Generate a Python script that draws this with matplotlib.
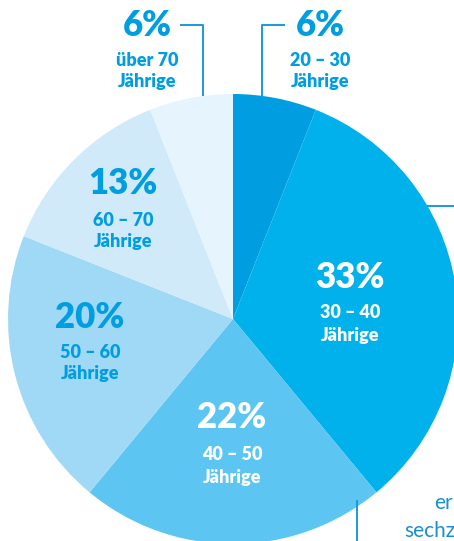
import matplotlib.pyplot as plt

# age groups, clockwise from 12 o'clock
shares = [6, 33, 22, 20, 13, 6]
pct_labels = ["6%", "33%", "22%", "20%", "13%", "6%"]
age_labels = ["20 – 30", "30 – 40", "40 – 50", "50 – 60", "60 – 70", "über 70"]
colors = ["#009ee0", "#00b1eb", "#5cc5f2", "#a0d9f6", "#d0eafa", "#e6f4fd"]

W, H = 454, 541
BLUE = "#009ee0"
FONT = ["Lato", "DejaVu Sans"]

fig = plt.figure(figsize=(W / 100, H / 100), dpi=100)
ax = fig.add_axes([0, 0, 1, 1])

cx, cy, r = 233, H - 319, 225
ax.pie(shares, colors=colors, startangle=90, counterclock=False,
       center=(cx, cy), radius=r, wedgeprops=dict(linewidth=0))
ax.set_xlim(0, W)
ax.set_ylim(0, H)
ax.set_aspect("equal")
ax.axis("off")

# label positions in pixel coords (x, y of percent, y of age, y of "Jährige")
label_pos = [
    (320, 25, 60, 82),
    (350, 277, 313, 335),
    (232, 418, 455, 477),
    (90, 318, 352, 374),
    (123, 184, 221, 242),
    (147, 25, 60, 82),
]
text_colors = [BLUE, "white", "white", BLUE, BLUE, BLUE]

for i, (x, y1, y2, y3) in enumerate(label_pos):
    c = text_colors[i]
    ax.text(x, H - y1, pct_labels[i], ha="center", va="center", color=c,
            fontsize=25, fontweight="heavy", family=FONT)
    ax.text(x, H - y2, age_labels[i], ha="center", va="center", color=c,
            fontsize=13, fontweight="heavy", family=FONT)
    ax.text(x, H - y3, "Jährige", ha="center", va="center", color=c,
            fontsize=13, fontweight="heavy", family=FONT)

# leader lines
line_kw = dict(color="#1a9ad9", linewidth=1.4, solid_capstyle="butt")
ax.plot([285, 262, 262], [H - 25, H - 25, H - 96], **line_kw)
ax.plot([180, 203, 203], [H - 25, H - 25, H - 96], **line_kw)
ax.plot([427, W], [H - 206, H - 206], **line_kw)
ax.plot([357, 357], [H - 500, 0], **line_kw)

# text continuing beyond the right edge (cut off in the original too)
ax.text(434, H - 503, "er", ha="left", va="center", color="#1a8fcf",
        fontsize=15, family=FONT)
ax.text(404, H - 531, "sechz", ha="left", va="center", color="#1a8fcf",
        fontsize=15, family=FONT)

fig.savefig("out.png", dpi=100)
